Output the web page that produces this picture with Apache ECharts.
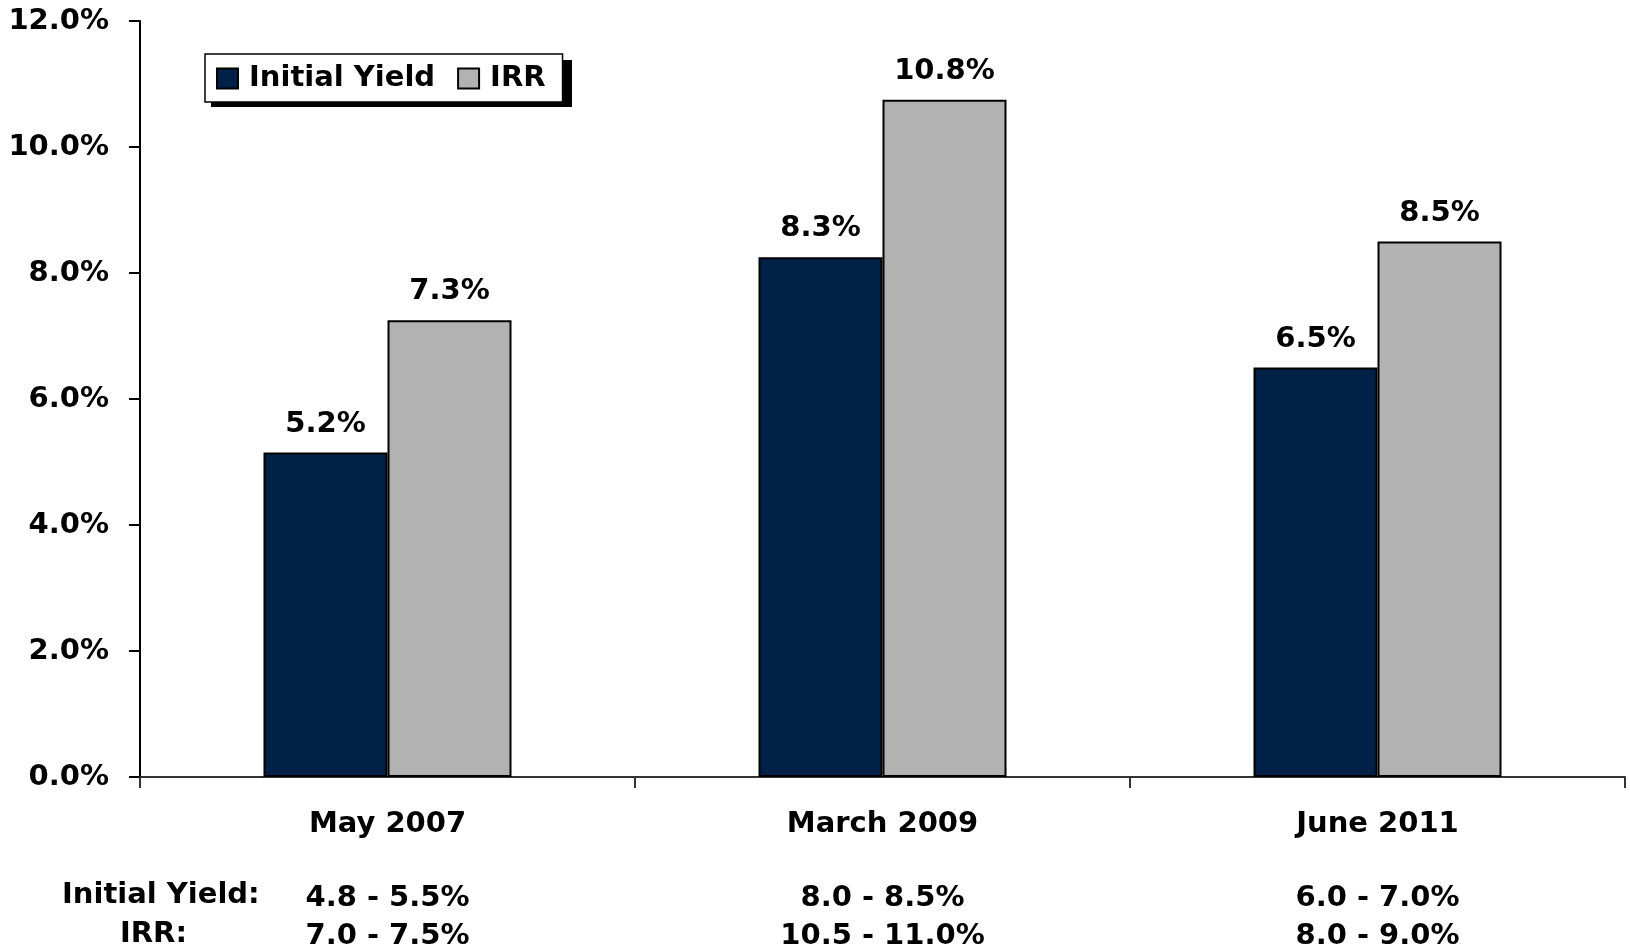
<!DOCTYPE html>
<html>
<head>
<meta charset="utf-8">
<script src="https://cdn.jsdelivr.net/npm/echarts@6/dist/echarts.min.js"></script>
<style>
html, body { margin: 0; padding: 0; background: #fff; }
#container { width: 1630px; height: 948px; }
</style>
</head>
<body>
<div id="container"></div>
<script>
var periods = ['May 2007', 'March 2009', 'June 2011'];
var initialYield = [5.15, 8.25, 6.5];
var irr = [7.25, 10.75, 8.5];
// ranges shown under each period
var yieldRange = ['4.8 - 5.5%', '8.0 - 8.5%', '6.0 - 7.0%'];
var irrRange = ['7.0 - 7.5%', '10.5 - 11.0%', '8.0 - 9.0%'];
var yTicks = [0, 2, 4, 6, 8, 10, 12];

var font = 'DejaVu Sans';
var dom = document.getElementById('container');
var myChart = echarts.init(dom);

var pct = function (v) {
    return Number(v).toFixed(1) + '%';
};

var barLabel = {
    show: true,
    position: 'top',
    distance: 14,
    color: '#000',
    fontFamily: font,
    fontWeight: 'bold',
    fontSize: 29,
    formatter: function (p) { return pct(p.value); }
};

var option = {
    animation: false,
    backgroundColor: '#fff',
    grid: {
        left: 140,
        right: 5,
        top: 21,
        bottom: 171,
        outerBoundsMode: 'none'
    },
    legend: {
        left: 205,
        top: 54,
        padding: [10, 17, 9, 11],
        itemGap: 22,
        itemWidth: 21,
        itemHeight: 20,
        icon: 'rect',
        backgroundColor: '#fff',
        borderColor: '#000',
        borderWidth: 1.5,
        textStyle: {
            color: '#000',
            fontFamily: font,
            fontWeight: 'bold',
            fontSize: 29,
            padding: [0, 0, 0, 6]
        },
        data: ['Initial Yield', 'IRR']
    },
    xAxis: {
        type: 'category',
        data: periods,
        axisLine: { lineStyle: { color: '#333', width: 2 } },
        axisTick: { show: true, length: 11, lineStyle: { color: '#333', width: 2 } },
        axisLabel: {
            margin: 28,
            color: '#000',
            formatter: function (val, idx) {
                return '{a|' + val + '}\n{s| }\n{b|' + yieldRange[idx] + '}\n{b|' + irrRange[idx] + '}';
            },
            rich: {
                a: { fontFamily: font, fontWeight: 'bold', fontSize: 29, lineHeight: 38, color: '#000' },
                s: { fontSize: 10, lineHeight: 36 },
                b: { fontFamily: font, fontWeight: 'bold', fontSize: 29, lineHeight: 38.5, color: '#000' }
            }
        }
    },
    yAxis: {
        type: 'value',
        min: yTicks[0],
        max: yTicks[yTicks.length - 1],
        interval: 2,
        splitLine: { show: false },
        axisLine: { show: true, lineStyle: { color: '#000', width: 2 } },
        axisTick: { show: true, length: 11, lineStyle: { color: '#000', width: 2 } },
        axisLabel: {
            margin: 31,
            color: '#000',
            fontFamily: font,
            fontWeight: 'bold',
            fontSize: 29,
            formatter: function (v) { return pct(v); }
        }
    },
    graphic: [
        {
            // drop shadow behind the legend box
            type: 'rect',
            z: 0,
            shape: { x: 211, y: 60, width: 361, height: 47 },
            style: { fill: '#000' }
        },
        {
            type: 'text',
            left: 62,
            top: 881,
            style: { text: 'Initial Yield:', fill: '#000', font: 'bold 29px "DejaVu Sans"' }
        },
        {
            type: 'text',
            left: 120,
            top: 920,
            style: { text: 'IRR:', fill: '#000', font: 'bold 29px "DejaVu Sans"' }
        }
    ],
    series: [
        {
            name: 'Initial Yield',
            type: 'bar',
            barWidth: 124,
            barGap: '0%',
            itemStyle: { color: '#002147', borderColor: '#000', borderWidth: 2 },
            label: barLabel,
            data: initialYield
        },
        {
            name: 'IRR',
            type: 'bar',
            barWidth: 124,
            barGap: '0%',
            itemStyle: { color: '#b2b2b2', borderColor: '#000', borderWidth: 2 },
            label: barLabel,
            data: irr
        }
    ]
};

if (option && typeof option === 'object') {
    myChart.setOption(option, false);
}
</script>
</body>
</html>
